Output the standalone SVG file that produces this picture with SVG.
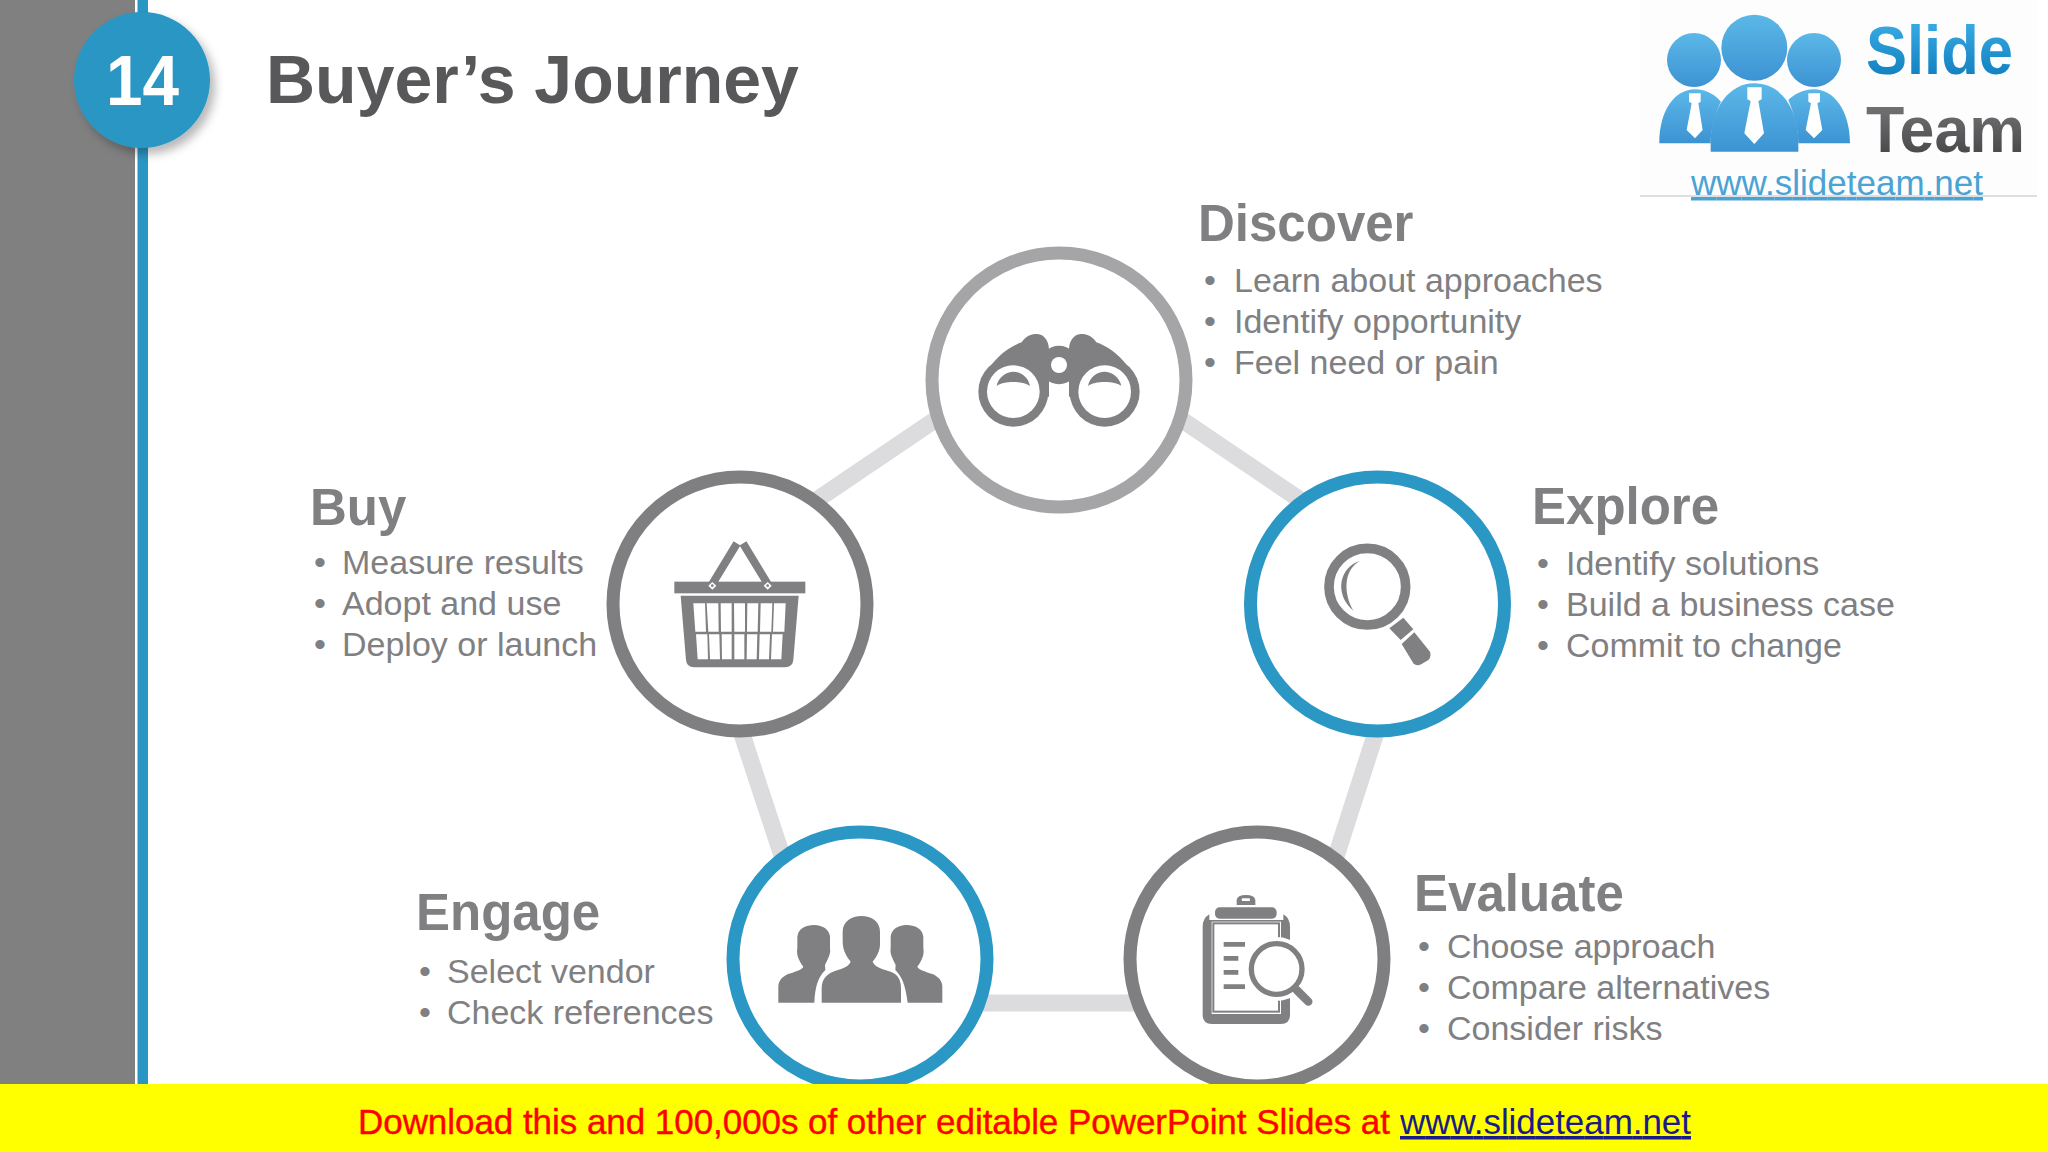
<svg xmlns="http://www.w3.org/2000/svg" width="2048" height="1152" viewBox="0 0 2048 1152">
<defs>
<filter id="sh" x="-30%" y="-30%" width="160%" height="160%"><feDropShadow dx="5" dy="6" stdDeviation="5" flood-color="#000" flood-opacity="0.28"/></filter>
<linearGradient id="gs" x1="0" y1="0" x2="0" y2="1"><stop offset="0" stop-color="#3fb2ea"/><stop offset="1" stop-color="#0a78b8"/></linearGradient>
<linearGradient id="gt" x1="0" y1="0" x2="0" y2="1"><stop offset="0" stop-color="#7d7d7f"/><stop offset="1" stop-color="#3f3f41"/></linearGradient>
<linearGradient id="gp" x1="0" y1="0" x2="0" y2="1"><stop offset="0" stop-color="#5cb8e8"/><stop offset="1" stop-color="#3c93d2"/></linearGradient>
</defs>
<style>
text{font-family:"Liberation Sans",Arial,sans-serif}
.h{font-size:51px;font-weight:700;fill:#808082}
.b{font-size:34px;fill:#808082}
.ring{fill:#fff;stroke-width:13}
.ic{fill:#807f82}
.w{fill:#fff}
.ln{fill:none;stroke:#807f82}
</style>
<rect width="2048" height="1152" fill="#fff"/>
<rect x="0" y="0" width="135" height="1085" fill="#808080"/>
<rect x="137.500" y="0" width="10.500" height="1085" fill="#2a96c3"/>
<g id="badge"><circle cx="142" cy="80" r="68" fill="#2a96c3" filter="url(#sh)"/>
<text x="106" y="105" font-size="70" font-weight="700" fill="#fff" textLength="73" lengthAdjust="spacingAndGlyphs">14</text></g>
<text id="title" x="266" y="103" font-size="68" font-weight="700" fill="#58585a">Buyer’s Journey</text>
<g id="connectors" stroke="#dcdcde" stroke-width="17" fill="none">
<path d="M790 518L960 403"/><path d="M1160 405L1330 520"/><path d="M1380 720L1330 875"/><path d="M950 1003H1180"/><path d="M738 722L790 880"/>
</g>
<g id="discover"><circle class="ring" cx="1059" cy="380" r="127" stroke="#a5a5a7"/>
<g transform="translate(900 230) scale(.33333)">
<path class="ic" d="M240,470C255,420 300,360 365,337C380,315 395,312 412,312C435,314 447,335 447,360V500H340Z"/>
<circle class="ic" cx="340" cy="485" r="105"/><circle class="w" cx="340" cy="485" r="79"/>
<path class="ic" d="M290,468C295,440 320,425 340,425C362,425 385,440 390,468C370,452 310,452 290,468Z"/>
<g transform="translate(954 0) scale(-1 1)"><path class="ic" d="M240,470C255,420 300,360 365,337C380,315 395,312 412,312C435,314 447,335 447,360V500H340Z"/>
<circle class="ic" cx="340" cy="485" r="105"/><circle class="w" cx="340" cy="485" r="79"/>
<path class="ic" d="M290,468C295,440 320,425 340,425C362,425 385,440 390,468C370,452 310,452 290,468Z"/></g>
<circle class="ic" cx="477" cy="405" r="58"/><circle class="w" cx="477" cy="405" r="24"/>
</g>
<text class="h" x="1198" y="241">Discover</text>
<text class="b" x="1204" y="292">•</text><text class="b" x="1234" y="292">Learn about approaches</text>
<text class="b" x="1204" y="333">•</text><text class="b" x="1234" y="333">Identify opportunity</text>
<text class="b" x="1204" y="374">•</text><text class="b" x="1234" y="374">Feel need or pain</text></g>
<g id="explore"><circle class="ring" cx="1377.500" cy="604" r="127" stroke="#2a97c5"/>
<g transform="translate(1230 460) scale(.33333)">
<circle class="ln" cx="412" cy="380" r="115" stroke-width="29"/>
<path class="ic" d="M390,303C330,320 310,400 370,452C340,400 340,330 390,303Z"/>
<path class="ic" d="M520,473L550,508L512,540L478,505Z"/>
<path class="ic" d="M553,517L600,575Q605,590 595,600L575,612Q560,620 550,610L515,552Z"/>
</g>
<text class="h" x="1532" y="524">Explore</text>
<text class="b" x="1537" y="575">•</text><text class="b" x="1566" y="575">Identify solutions</text>
<text class="b" x="1537" y="616">•</text><text class="b" x="1566" y="616">Build a business case</text>
<text class="b" x="1537" y="657">•</text><text class="b" x="1566" y="657">Commit to change</text></g>
<g id="evaluate"><circle class="ring" cx="1257" cy="959" r="127" stroke="#7f7e80"/>
<g transform="translate(1120 820) scale(.33333)">
<path class="ic" d="M268,283V300H490V283Q510,295 510,320V585Q510,612 483,612H275Q248,612 248,585V320Q248,295 268,283Z"/>
<rect class="w" x="275" y="305" width="208" height="277"/>
<rect class="ln" x="280" y="310" width="197" height="265" stroke-width="6"/>
<circle class="w" cx="470" cy="447" r="96"/>
<rect class="ic" x="285" y="262" width="185" height="34" rx="14"/>
<path class="ic" d="M350,255V240Q352,225 378,225Q404,225 406,240V255Z"/><rect class="w" x="365" y="235" width="25" height="8" rx="3"/>
<circle class="ln" cx="470" cy="447" r="76" stroke-width="16"/>
<path class="ln" d="M530,510L565,545" stroke-width="25" stroke-linecap="round"/>
<path class="ln" d="M311,373H375M311,415H355M311,457H355M311,500H375" stroke-width="14"/>
</g>
<text class="h" x="1414" y="911">Evaluate</text>
<text class="b" x="1418" y="958">•</text><text class="b" x="1447" y="958">Choose approach</text>
<text class="b" x="1418" y="999">•</text><text class="b" x="1447" y="999">Compare alternatives</text>
<text class="b" x="1418" y="1040">•</text><text class="b" x="1447" y="1040">Consider risks</text></g>
<g id="engage"><circle class="ring" cx="860" cy="959" r="127" stroke="#2a97c5"/>
<g transform="translate(720 820) scale(.33333)">
<path class="ic" d="M175,548V500C175,480 190,468 205,462C225,455 245,450 250,440C238,425 228,405 232,385V350C235,325 258,315 282,315C310,315 328,330 330,350V385C333,400 325,415 315,435L316,450C295,470 285,500 283,548Z"/>
<path class="ic" d="M667,548V500C667,480 652,468 637,462C617,455 597,450 592,440C604,425 614,405 610,385V350C607,325 584,315 560,315C532,315 514,330 512,350V385C509,400 517,415 527,435L526,450C547,470 557,500 563,548Z"/>
<path class="ic" d="M305,548V505C305,470 330,458 345,453C370,445 385,440 392,425C380,410 368,390 368,365V335C368,305 395,288 424,288C455,288 480,305 480,335V365C482,390 470,410 458,425C465,440 480,445 505,453C530,460 543,475 543,505V548Z"/>
</g>
<text class="h" x="416" y="930">Engage</text>
<text class="b" x="419" y="983">•</text><text class="b" x="447" y="983">Select vendor</text>
<text class="b" x="419" y="1024">•</text><text class="b" x="447" y="1024">Check references</text></g>
<g id="buy"><circle class="ring" cx="740" cy="604" r="127" stroke="#7f7e80"/>
<g transform="translate(590 460) scale(.33333)">
<path class="ln" d="M365,375L441,250M535,375L459,250" stroke-width="24"/>
<rect class="ic" x="253" y="365" width="393" height="35"/>
<path class="w" d="M367,366L379,377L367,389L355,377ZM533,366L545,377L533,389L521,377Z"/>
<circle class="ic" cx="367" cy="377" r="4"/><circle class="ic" cx="533" cy="377" r="4"/>
<path class="ic" d="M272,407H626L610,600Q608,622 585,622H312Q290,622 288,600Z"/>
<path class="w" d="M310,430H345L348,515H316ZM350,430H385L386,515H355ZM392,430H425V515H393ZM432,430H465V515H433ZM472,430H505L503,515H471ZM512,430H547L544,515H510ZM552,430H587L583,515H549ZM318,523H352L354,598H323ZM357,523H388L390,598H360ZM395,523H425V598H396ZM433,523H463V598H433ZM471,523H502L500,598H470ZM509,523H540L537,598H507ZM546,523H578L574,598H543Z"/>
</g>
<text class="h" x="310" y="525">Buy</text>
<text class="b" x="314" y="574">•</text><text class="b" x="342" y="574">Measure results</text>
<text class="b" x="314" y="615">•</text><text class="b" x="342" y="615">Adopt and use</text>
<text class="b" x="314" y="656">•</text><text class="b" x="342" y="656">Deploy or launch</text></g>
<g id="logo">
<rect x="1640" y="0" width="397" height="196" fill="#fdfdfe"/>
<path d="M1640 196H2037" stroke="#d5d5d5" stroke-width="1.500"/>
<g transform="translate(1620 0) scale(.33333)">
<g fill="url(#gp)"><circle cx="222" cy="180" r="81"/><circle cx="582" cy="180" r="81"/>
<path d="M118,430C118,330 165,268 225,268C260,268 285,285 303,305C285,340 272,390 272,430Z"/>
<path d="M690,430C690,330 640,268 582,268C548,268 520,285 505,300C522,340 535,390 535,430Z"/>
<circle cx="403" cy="143" r="99"/>
<path d="M272,455V420C275,320 330,250 403,250C480,250 532,320 535,420V455Z"/></g>
<path class="w" d="M207,280H242V305L235,310L248,390L225,415L200,390L215,310L207,305ZM382,262H425V298L415,303L432,400L403,432L373,400L392,303L382,298ZM565,280H600V305L592,310L607,390L582,415L557,390L573,310L565,305Z"/>
</g>
<text x="1866" y="74" font-size="68" font-weight="700" fill="url(#gs)" textLength="147" lengthAdjust="spacingAndGlyphs">Slide</text>
<text x="1866" y="152" font-size="65" font-weight="700" fill="url(#gt)" textLength="159" lengthAdjust="spacingAndGlyphs">Team</text>
<text x="1691" y="195" font-size="35" fill="#4aa3d4" text-decoration="underline" textLength="292">www.slideteam.net</text>
</g>
<g id="banner"><rect x="0" y="1084" width="2048" height="68" fill="#ffff00"/>
<text x="358" y="1134" font-size="35" fill="#ff0000" stroke="#ff0000" stroke-width=".4" textLength="1032">Download this and 100,000s of other editable PowerPoint Slides at</text>
<text x="1400" y="1134" font-size="35" fill="#1a1a8a" text-decoration="underline" textLength="291">www.slideteam.net</text></g>
</svg>
